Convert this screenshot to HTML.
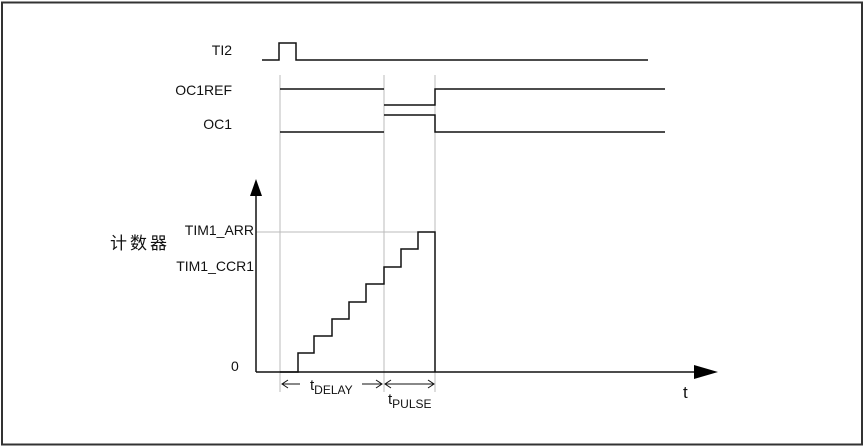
<!DOCTYPE html>
<html><head><meta charset="utf-8"><style>
html,body{margin:0;padding:0;background:#fff;}
svg{display:block;}
text{font-family:"Liberation Sans","Noto Sans CJK SC",sans-serif;fill:#111;}
</style></head><body>
<svg width="865" height="448" viewBox="0 0 865 448" xmlns="http://www.w3.org/2000/svg">
<rect x="2" y="2.5" width="860" height="442" fill="none" stroke="#333" stroke-width="2"/>
<g stroke="#bbb" stroke-width="1">
<line x1="280" y1="75" x2="280" y2="392"/>
<line x1="384" y1="75" x2="384" y2="392"/>
<line x1="435" y1="75" x2="435" y2="392"/>
<line x1="256" y1="232" x2="435" y2="232"/>
</g>
<g fill="none" stroke="#111" stroke-width="1.5">
<polyline points="262,60 279,60 279,43 296,43 296,60 648,60"/>
<polyline points="280,89 384,89"/>
<polyline points="384,105 435,105 435,89 665,89"/>
<polyline points="280,132 384,132"/>
<polyline points="384,115 435,115 435,132 665,132"/>
<line x1="256" y1="192" x2="256" y2="372"/>
<line x1="256" y1="372" x2="695" y2="372"/>
<polyline points="280,372 298,372 298,353 314,353 314,336 332,336 332,319 349,319 349,302 366,302 366,284 384,284 384,267 401,267 401,249 418,249 418,232 435,232 435,372"/>
</g>
<polygon points="256,179 250,196 262,196" fill="#000"/>
<polygon points="718,372 694,365 694,379" fill="#000"/>
<g fill="none" stroke="#111" stroke-width="1">
<line x1="282" y1="384" x2="300" y2="384"/><polyline points="288,380 282,384 288,388"/>
<line x1="362" y1="384" x2="382" y2="384"/><polyline points="376,380 382,384 376,388"/>
<line x1="385" y1="384" x2="434" y2="384"/><polyline points="391,380 385,384 391,388"/><polyline points="428,380 434,384 428,388"/>
</g>
<g font-size="14">
<text x="232" y="55" text-anchor="end">TI2</text>
<text x="232" y="95" text-anchor="end">OC1REF</text>
<text x="232" y="129" text-anchor="end">OC1</text>
<text x="254" y="235" text-anchor="end">TIM1_ARR</text>
<text x="254" y="271" text-anchor="end">TIM1_CCR1</text>
<text x="231" y="371">0</text>
<text x="683" y="398" font-size="17">t</text>
<text x="310" y="390" font-size="15">t<tspan font-size="12" dy="4">DELAY</tspan></text>
<text x="388" y="404" font-size="15">t<tspan font-size="12" dy="4">PULSE</tspan></text>
<text x="110" y="249" font-size="17" letter-spacing="3">计数器</text>
</g>
</svg>
</body></html>
